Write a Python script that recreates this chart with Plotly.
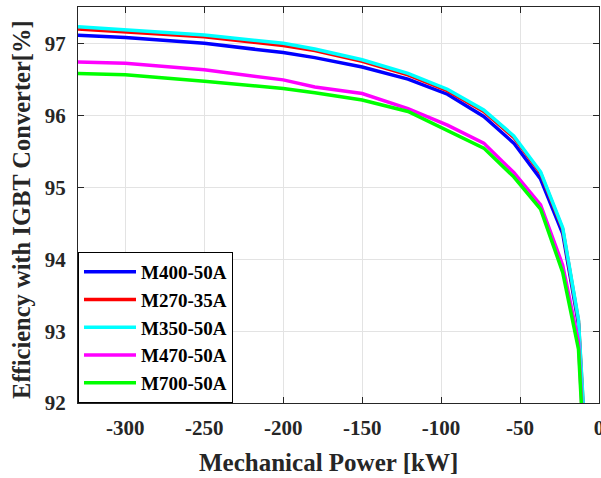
import plotly.graph_objects as go

power = [-330, -300, -250, -200, -180, -150, -121, -96, -73, -54, -37, -23, -13, -10]

eff_m400 = [97.12, 97.09, 97.01, 96.88, 96.81, 96.68, 96.51, 96.30, 95.99, 95.62, 95.12, 94.36, 93.10, 91.85]
eff_m270 = [97.21, 97.17, 97.10, 96.98, 96.91, 96.76, 96.57, 96.35, 96.06, 95.70, 95.20, 94.42, 93.14, 91.95]
eff_m350 = [97.24, 97.20, 97.125, 97.01, 96.93, 96.78, 96.59, 96.37, 96.08, 95.72, 95.22, 94.44, 93.16, 92.0]
eff_m470 = [96.75, 96.73, 96.64, 96.50, 96.40, 96.31, 96.10, 95.87, 95.62, 95.21, 94.76, 93.92, 92.85, 91.6]
eff_m700 = [96.59, 96.57, 96.48, 96.38, 96.32, 96.22, 96.06, 95.80, 95.55, 95.15, 94.70, 93.82, 92.75, 91.5]

names = ["M400-50A", "M270-35A", "M350-50A", "M470-50A", "M700-50A"]
series = [eff_m400, eff_m270, eff_m350, eff_m470, eff_m700]
colors = ["#0000ff", "#ff0000", "#00ffff", "#ff00ff", "#00ff00"]

x_ticks = [-300, -250, -200, -150, -100, -50, 0]
x_labels = ["-300", "-250", "-200", "-150", "-100", "-50", "0"]
y_ticks = [92, 93, 94, 95, 96, 97]

x_title = "Mechanical Power [kW]"
y_title = "Efficiency with IGBT Converter[%]"

FONT = "Liberation Serif, Times New Roman, serif"
TXT = "#262626"

fig = go.Figure()
for name, vals, col in zip(names, series, colors):
    fig.add_trace(go.Scatter(x=power, y=vals, mode="lines", name=name,
                             line=dict(color=col, width=3.5)))

axis_common = dict(
    showline=True, linecolor="#262626", linewidth=1, mirror="ticks",
    ticks="inside", ticklen=6, tickcolor="#262626",
    showgrid=True, gridcolor="#e3e3e3", gridwidth=1, zeroline=False,
    automargin=False, ticklabeloverflow="allow",
    tickfont=dict(family=FONT, size=21, color=TXT, weight="bold"),
)

fig.update_layout(
    width=601, height=478,
    margin=dict(l=78, r=2, t=7, b=75, autoexpand=False),
    plot_bgcolor="white", paper_bgcolor="white",
    xaxis=dict(range=[-330, 0], tickvals=x_ticks, ticktext=x_labels,
               ticklabelstandoff=6, **axis_common),
    yaxis=dict(range=[92, 97.515], tickvals=y_ticks, ticklabelstandoff=7, **axis_common),
    legend=dict(x=0, y=0, xanchor="left", yanchor="bottom",
                bgcolor="white", bordercolor="#000000", borderwidth=1,
                font=dict(family=FONT, size=19, color="#000000", weight="bold"),
                itemwidth=52, tracegroupgap=0),
    showlegend=True,
    annotations=[
        dict(text=x_title, xref="paper", yref="paper", x=0.48, y=-0.149,
             xanchor="center", yanchor="middle", showarrow=False,
             font=dict(family=FONT, size=25, color=TXT, weight="bold")),
        dict(text=y_title, xref="paper", yref="paper", x=-0.1075, y=0.49,
             xanchor="center", yanchor="middle", showarrow=False, textangle=-90,
             font=dict(family=FONT, size=24.5, color=TXT, weight="bold")),
    ],
)

fig.write_html("out.html", config={"displayModeBar": False},
               post_script="document.body.style.margin='0px';")
